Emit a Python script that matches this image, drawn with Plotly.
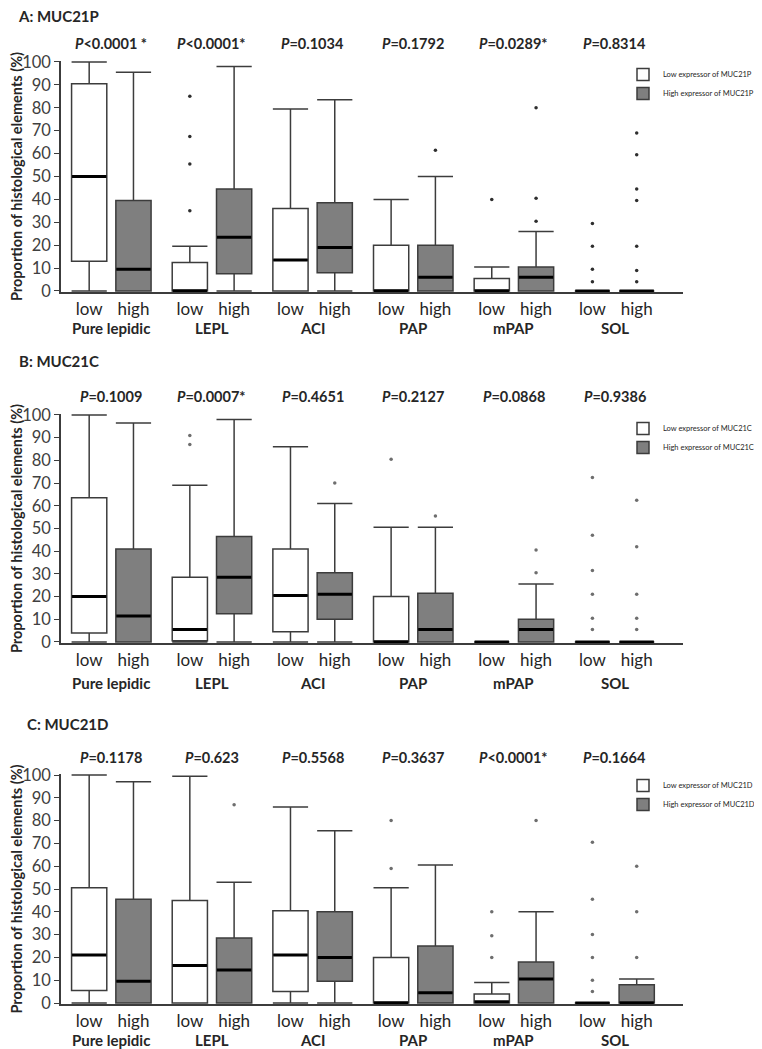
import plotly.graph_objects as go

# ---------------- data ----------------
categories = ["Pure lepidic", "LEPL", "ACI", "PAP", "mPAP", "SOL"]
group_labels = ["low", "high"]
panel_titles = ["A: MUC21P", "B: MUC21C", "C: MUC21D"]
gene_names = ["MUC21P", "MUC21C", "MUC21D"]
y_ticks = [0, 10, 20, 30, 40, 50, 60, 70, 80, 90, 100]
y_title = "Proportion of histological elements (%)"

# Panel A: MUC21P
A_pvalues = ["P<0.0001 *", "P<0.0001*", "P=0.1034", "P=0.1792", "P=0.0289*", "P=0.8314"]
A_low_lf = [0, 0, 0, 0, 0, 0]
A_low_q1 = [13, 0, 0, 0, 0, 0]
A_low_med = [50, 0, 13.5, 0, 0, 0]
A_low_q3 = [90.5, 12.5, 36, 20, 5.5, 0]
A_low_uf = [100, 19.5, 79.5, 40, 10.5, 0]
A_low_out = [[], [85, 67.5, 55.5, 35], [], [], [40], [29.5, 19.5, 9.5, 4]]
A_high_lf = [0, 0, 0, 0, 0, 0]
A_high_q1 = [0, 7.5, 8, 0, 0, 0]
A_high_med = [9.5, 23.5, 19, 6, 6, 0]
A_high_q3 = [39.5, 44.5, 38.5, 20, 10.5, 0]
A_high_uf = [95.5, 98, 83.5, 50, 26, 0]
A_high_out = [[], [], [], [61.5], [30.5, 40.5, 80], [4, 9, 19.5, 39.5, 44.5, 59.5, 69]]

# Panel B: MUC21C
B_pvalues = ["P=0.1009", "P=0.0007*", "P=0.4651", "P=0.2127", "P=0.0868", "P=0.9386"]
B_low_lf = [0, 0, 0, 0, 0, 0]
B_low_q1 = [4, 0.5, 4.5, 0, 0, 0]
B_low_med = [20, 5.5, 20.5, 0, 0, 0]
B_low_q3 = [63.5, 28.5, 41, 20, 0, 0]
B_low_uf = [100, 69, 86, 50.5, 0, 0]
B_low_out = [[], [91, 87], [], [80.5], [], [5.5, 10.5, 21, 31.5, 47, 72.5]]
B_high_lf = [0, 0, 0, 0, 0, 0]
B_high_q1 = [0, 12.5, 10, 0, 0, 0]
B_high_med = [11.5, 28.5, 21, 5.5, 5.5, 0]
B_high_q3 = [41, 46.5, 30.5, 21.5, 10, 0]
B_high_uf = [96.5, 98, 61, 50.5, 25.5, 0]
B_high_out = [[], [], [70], [55.5], [30.5, 40.5], [5.5, 10.5, 21, 42, 62.5]]

# Panel C: MUC21D
C_pvalues = ["P=0.1178", "P=0.623", "P=0.5568", "P=0.3637", "P<0.0001*", "P=0.1664"]
C_low_lf = [0, 0, 0, 0, 0, 0]
C_low_q1 = [5.5, 0, 5, 0, 0, 0]
C_low_med = [21, 16.5, 21, 0, 0.5, 0]
C_low_q3 = [50.5, 45, 40.5, 20, 4, 0]
C_low_uf = [100, 99.5, 86, 50.5, 9, 0]
C_low_out = [[], [], [], [59, 80], [20, 29.5, 40], [5, 10, 20, 30, 45.5, 70.5]]
C_high_lf = [0, 0, 0, 0, 0, 0]
C_high_q1 = [0, 0, 9.5, 0, 0, 0]
C_high_med = [9.5, 14.5, 20, 4.5, 10.5, 0]
C_high_q3 = [45.5, 28.5, 40, 25, 18, 8]
C_high_uf = [97, 53, 75.5, 60.5, 40, 10.5]
C_high_out = [[], [87], [], [], [80], [20, 40, 60]]

panels = [
    (A_pvalues, (A_low_lf, A_low_q1, A_low_med, A_low_q3, A_low_uf, A_low_out),
     (A_high_lf, A_high_q1, A_high_med, A_high_q3, A_high_uf, A_high_out)),
    (B_pvalues, (B_low_lf, B_low_q1, B_low_med, B_low_q3, B_low_uf, B_low_out),
     (B_high_lf, B_high_q1, B_high_med, B_high_q3, B_high_uf, B_high_out)),
    (C_pvalues, (C_low_lf, C_low_q1, C_low_med, C_low_q3, C_low_uf, C_low_out),
     (C_high_lf, C_high_q1, C_high_med, C_high_q3, C_high_uf, C_high_out)),
]

# ---------------- layout constants ----------------
PAGE_W, PAGE_H = 762, 1049
OFF = 8                       # page body margin
W, H = PAGE_W - OFF, PAGE_H - OFF
FONT = "Lato"
LINE = "#3c3c3c"
TXT = "#262626"
X_LEFT, X_RIGHT = 61 - OFF, 683 - OFF
ML, MR = X_LEFT, W - X_RIGHT
PW = X_RIGHT - X_LEFT
panel_px = [(62, 291), (415, 642), (775, 1003)]  # page pixel of y=100, y=0
title_px = [(16, 16), (17, 361), (25, 724)]
cat_shift = [-37, -41, -37]
legend_top_px = [60, 414, 771]
legend_left_px = 623
dot_colors = ["#2e2e2e", "#6e6e6e", "#6e6e6e"]
X_RANGE = [-0.5, 5.68]
Y_RANGE = [-0.6, 100.6]
OFFSET = 0.22
BOX_W = 0.35
fills = ["white", "#7f7f7f"]
legend_names = ["Low expressor of ", "High expressor of "]


def fmt_p(s):
    s = s.replace("<", "&lt;")
    return "<b><i>P</i>" + s[1:] + "</b>"


fig = go.Figure()
layout = dict(
    width=W, height=H,
    margin=dict(l=ML, r=MR, t=0, b=0, autoexpand=False),
    paper_bgcolor="white", plot_bgcolor="white",
    font=dict(family=FONT, color=TXT),
    boxmode="overlay",
    annotations=[],
)

for k, (pvals, low, high) in enumerate(panels):
    xa = "x" if k == 0 else f"x{k+1}"
    ya = "y" if k == 0 else f"y{k+1}"
    lg = "legend" if k == 0 else f"legend{k+1}"
    y100, y0 = panel_px[k][0] - OFF, panel_px[k][1] - OFF
    ppu = (y0 - y100) / 100.0
    top_px = y100 - (Y_RANGE[1] - 100) * ppu
    bot_px = y0 + (0 - Y_RANGE[0]) * ppu
    dom = [1 - bot_px / H, 1 - top_px / H]

    for g, stats in enumerate([low, high]):
        lf, q1, med, q3, uf, out = stats
        sign = -1 if g == 0 else 1
        pos = [i + sign * OFFSET for i in range(len(categories))]
        fig.add_trace(go.Box(
            x=pos, lowerfence=lf, q1=q1, median=med, q3=q3, upperfence=uf,
            name=legend_names[g] + gene_names[k],
            fillcolor=fills[g], line=dict(color=LINE, width=1.5),
            width=BOX_W, whiskerwidth=1, boxpoints=False,
            xaxis=xa, yaxis=ya, legend=lg, hoverinfo="y",
        ))
        # thick median bars (line-ew spans 1.4 x marker size)
        fig.add_trace(go.Scatter(
            x=pos, y=med, mode="markers", showlegend=False, hoverinfo="skip",
            marker=dict(symbol="line-ew", size=24.5, line=dict(width=3, color="black")),
            xaxis=xa, yaxis=ya, cliponaxis=False,
        ))
        ox, oy = [], []
        for i, vals in enumerate(out):
            ox += [pos[i]] * len(vals)
            oy += vals
        fig.add_trace(go.Scatter(
            x=ox, y=oy, mode="markers", showlegend=False,
            marker=dict(size=3.5, color=dot_colors[k]),
            xaxis=xa, yaxis=ya,
        ))

    tickpos = []
    ticktext = []
    for i in range(len(categories)):
        tickpos += [i - OFFSET, i + OFFSET]
        ticktext += group_labels

    layout["xaxis" if k == 0 else f"xaxis{k+1}"] = dict(
        domain=[0, 1], range=X_RANGE, anchor=ya, automargin=False,
        showline=True, linecolor=LINE, linewidth=1.5,
        tickvals=tickpos, ticktext=ticktext, ticks="",
        tickfont=dict(size=17, family=FONT, color=TXT),
        showgrid=False, zeroline=False, fixedrange=True,
    )
    layout["yaxis" if k == 0 else f"yaxis{k+1}"] = dict(
        domain=dom, range=Y_RANGE, anchor=xa, automargin=False,
        showline=True, linecolor=LINE, linewidth=1.5,
        tickvals=y_ticks, ticks="outside", ticklen=5, tickwidth=1.3, tickcolor=LINE,
        tickfont=dict(size=16.5, family=FONT, color="#404040"),
        showgrid=False, zeroline=False,
        title=dict(text="<b>" + y_title + "</b>", font=dict(size=14.5, family=FONT, color=TXT),
                   standoff=5),
    )
    layout[lg] = dict(
        x=(legend_left_px - OFF) / W, y=1 - (legend_top_px[k] - OFF) / H,
        xref="container", yref="container",
        xanchor="left", yanchor="top",
        font=dict(size=7.5, family=FONT, color=TXT),
        bgcolor="rgba(0,0,0,0)", borderwidth=0, traceorder="normal",
    )

    # P-values
    for i, p in enumerate(pvals):
        layout["annotations"].append(dict(
            x=i, y=100, xref=xa, yref=ya, yshift=18, text=fmt_p(p), showarrow=False,
            font=dict(size=14.5, family=FONT, color=TXT), xanchor="center", yanchor="middle",
        ))
    # category names
    for i, c in enumerate(categories):
        layout["annotations"].append(dict(
            x=i, y=0, xref=xa, yref=ya, yshift=cat_shift[k], text="<b>" + c + "</b>",
            showarrow=False, font=dict(size=15, family=FONT, color=TXT),
            xanchor="center", yanchor="middle",
        ))
    # panel title
    tx, ty = title_px[k][0] - OFF, title_px[k][1] - OFF
    layout["annotations"].append(dict(
        x=(tx - ML) / PW, y=1 - ty / H, xref="paper", yref="paper",
        text="<b>" + panel_titles[k] + "</b>", showarrow=False,
        font=dict(size=15, family=FONT, color=TXT), xanchor="left", yanchor="middle",
    ))

fig.update_layout(**layout)
fig.write_html("out.html")
